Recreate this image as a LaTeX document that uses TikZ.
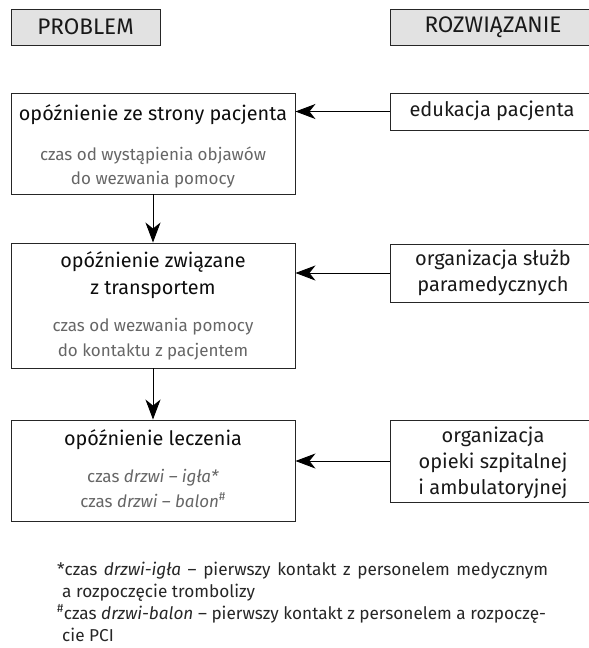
\documentclass[tikz,border=0pt]{standalone}
\usepackage{fontspec}
\setmainfont{Fira Sans}
\usetikzlibrary{arrows.meta}
\definecolor{headfill}{HTML}{E2E2E2}
\definecolor{subgray}{HTML}{666666}
\tikzset{
  frame/.style={draw=black!85, line width=0.9pt, rectangle, inner sep=0pt},
  head/.style={frame, fill=headfill},
  caption/.style={font=\fontsize{22.5}{26}\selectfont, text=black!90, inner sep=0pt},
  title/.style={font=\fontsize{19.8}{24}\selectfont, text=black!95, inner sep=0pt},
  sub/.style={font=\fontsize{17}{20}\selectfont, text=subgray, inner sep=0pt},
  solution/.style={font=\fontsize{20}{26}\selectfont, text=black!90, align=center, inner sep=0pt},
  note/.style={font=\fontsize{17.2}{20}\selectfont, text=black!85, anchor=base west, inner sep=0pt},
  link/.style={line width=0.9pt, -{Stealth[length=20pt, width=15pt, inset=6pt]}},
}
\begin{document}
\begin{tikzpicture}[x=1pt, y=-1pt]
\useasboundingbox (0,0) rectangle (589,648);
\clip (0,0) rectangle (589,648);

% column headers
\node[head, minimum width=149pt, minimum height=36pt] (hprob) at (85.5,27) {};
\node[caption] (hprobt) at (85.5,27) {PROBLEM};
\node[head, minimum width=210pt, minimum height=36pt] (hsol) at (495,27) {};
\node[caption] (hsolt) at (493,27) {ROZWIĄZANIE};

% problem boxes
\node[frame, minimum width=284pt, minimum height=101pt] (p1) at (153,143.5) {};
\node[title] (p1t) at (153,115) {opóźnienie ze strony pacjenta};
\node[sub] (p1a) at (153,156) {czas od wystąpienia objawów};
\node[sub] (p1b) at (153,180) {do wezwania pomocy};

\node[frame, minimum width=284pt, minimum height=125pt] (p2) at (153,305.5) {};
\node[title] (p2t) at (153,262) {opóźnienie związane};
\node[title] (p2u) at (153,290) {z transportem};
\node[sub] (p2a) at (153,327) {czas od wezwania pomocy};
\node[sub] (p2b) at (153,352) {do kontaktu z pacjentem};

\node[frame, minimum width=284pt, minimum height=101pt] (p3) at (153,470.5) {};
\node[title] (p3t) at (153,440) {opóźnienie leczenia};
\node[sub] (p3a) at (153,478) {czas \textit{drzwi -- igła*}};
\node[sub] (p3b) at (153,500) {czas \textit{drzwi -- balon}\textsuperscript{\#}};

% solution boxes
\node[frame, minimum width=210pt, minimum height=37pt] (s1) at (495,111.5) {};
\node[solution] (s1t) at (492,111) {edukacja pacjenta};
\node[frame, minimum width=210pt, minimum height=58pt] (s2) at (495,273) {};
\node[solution] (s2t) at (493,273) {organizacja służb\\paramedycznych};
\node[frame, minimum width=210pt, minimum height=82pt] (s3) at (495,461) {};
\node[solution] (s3t) at (493,463) {organizacja\\opieki szpitalnej\\i ambulatoryjnej};

% connectors
\draw[link] (p1.south) -- (p2.north);
\draw[link] (p2.south) -- (p3.north);
\draw[link] (s1.west) -- (s1.west -| p1.east);
\draw[link] (s2.west) -- (s2.west -| p2.east);
\draw[link] (s3.west) -- (s3.west -| p3.east);

% footnotes
\node[note] (n1) at (57,575) {\makebox[491pt][s]{*czas \textit{drzwi-igła} -- pierwszy kontakt z personelem medycznym}};
\node[note] (n2) at (62,597) {a rozpoczęcie trombolizy};
\node[note] (n3) at (57,619) {\textsuperscript{\#}czas \textit{drzwi-balon} -- pierwszy kontakt z personelem a rozpoczę-};
\node[note] (n4) at (62,641) {cie PCI};
\end{tikzpicture}
\end{document}
